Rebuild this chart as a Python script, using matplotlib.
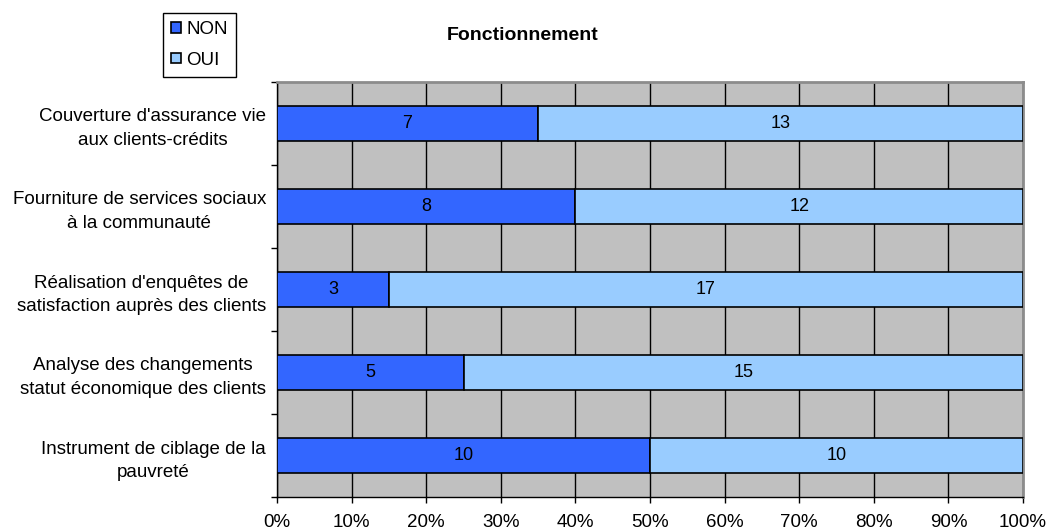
import numpy as np
import matplotlib.pyplot as plt

plt.rcParams['font.family'] = ['Liberation Sans', 'DejaVu Sans']

# Data (top to bottom)
categories = [
    "Couverture d'assurance vie\naux clients-crédits",
    "Fourniture de services sociaux\nà la communauté",
    "Réalisation d'enquêtes de\nsatisfaction auprès des clients",
    "Analyse des changements\nstatut économique des clients",
    "Instrument de ciblage de la\npauvreté",
]
non_counts = [7, 8, 3, 5, 10]
oui_counts = [13, 12, 17, 15, 10]
x_ticks = [0, 10, 20, 30, 40, 50, 60, 70, 80, 90, 100]

non = np.array(non_counts, dtype=float)
oui = np.array(oui_counts, dtype=float)
total = non + oui
non_pct = non / total * 100
oui_pct = oui / total * 100

fig = plt.figure(figsize=(10.51, 5.31), dpi=100)
ax = fig.add_axes([277 / 1051, 1 - 497 / 531, (1023 - 277) / 1051, (497 - 82) / 531])
ax.set_facecolor('#C0C0C0')

y = np.arange(len(categories))
h = 0.41
b1 = ax.barh(y, non_pct, height=h, color='#3366FF', edgecolor='black', linewidth=1.2, label='NON', zorder=3)
b2 = ax.barh(y, oui_pct, left=non_pct, height=h, color='#99CCFF', edgecolor='black', linewidth=1.2, label='OUI', zorder=3)

for rect, v in zip(b1, non_counts):
    ax.text(rect.get_x() + rect.get_width() / 2, rect.get_y() + rect.get_height() / 2, str(v),
            ha='center', va='center', fontsize=13, zorder=4)
for rect, v in zip(b2, oui_counts):
    ax.text(rect.get_x() + rect.get_width() / 2, rect.get_y() + rect.get_height() / 2, str(v),
            ha='center', va='center', fontsize=13, zorder=4)

ax.set_xlim(0, 100)
ax.set_ylim(len(categories) - 0.5, -0.5)
ax.set_xticks(x_ticks)
ax.set_xticklabels([f'{t}%' for t in x_ticks], fontsize=13.5)
ax.xaxis.grid(True, color='black', linewidth=1.0, zorder=1)
ax.set_axisbelow(True)

# category labels between boundary ticks
ax.set_yticks(np.arange(-0.5, len(categories) + 0.5, 1.0))
ax.set_yticklabels([])
ax.set_yticks(y, minor=True)
ax.set_yticklabels(categories, minor=True, fontsize=13.5, ha='right',
                   multialignment='center', linespacing=1.5)
ax.tick_params(axis='y', which='minor', length=0, pad=8)
ax.tick_params(axis='y', which='major', length=4, direction='out', width=1)
ax.tick_params(axis='x', length=4, direction='out', width=1, pad=8)

for s in ['left', 'bottom']:
    ax.spines[s].set_color('black')
    ax.spines[s].set_linewidth(1)
for s in ['top', 'right']:
    ax.spines[s].set_color('#8C8C8C')
    ax.spines[s].set_linewidth(2)

fig.text(523 / 1051, 1 - 35 / 531, 'Fonctionnement', ha='center', va='center',
         fontsize=14, fontweight='bold')

leg = fig.legend(handles=[b1, b2], labels=['NON', 'OUI'], loc='upper left',
                 bbox_to_anchor=(163 / 1051, 1 - 13 / 531), fontsize=13.5,
                 frameon=True, fancybox=False, edgecolor='black', framealpha=1,
                 handlelength=0.5, handleheight=0.5, handletextpad=0.3,
                 borderpad=0.45, labelspacing=0.7, borderaxespad=0)
leg.get_frame().set_linewidth(1)

fig.savefig('out.png', dpi=100)
